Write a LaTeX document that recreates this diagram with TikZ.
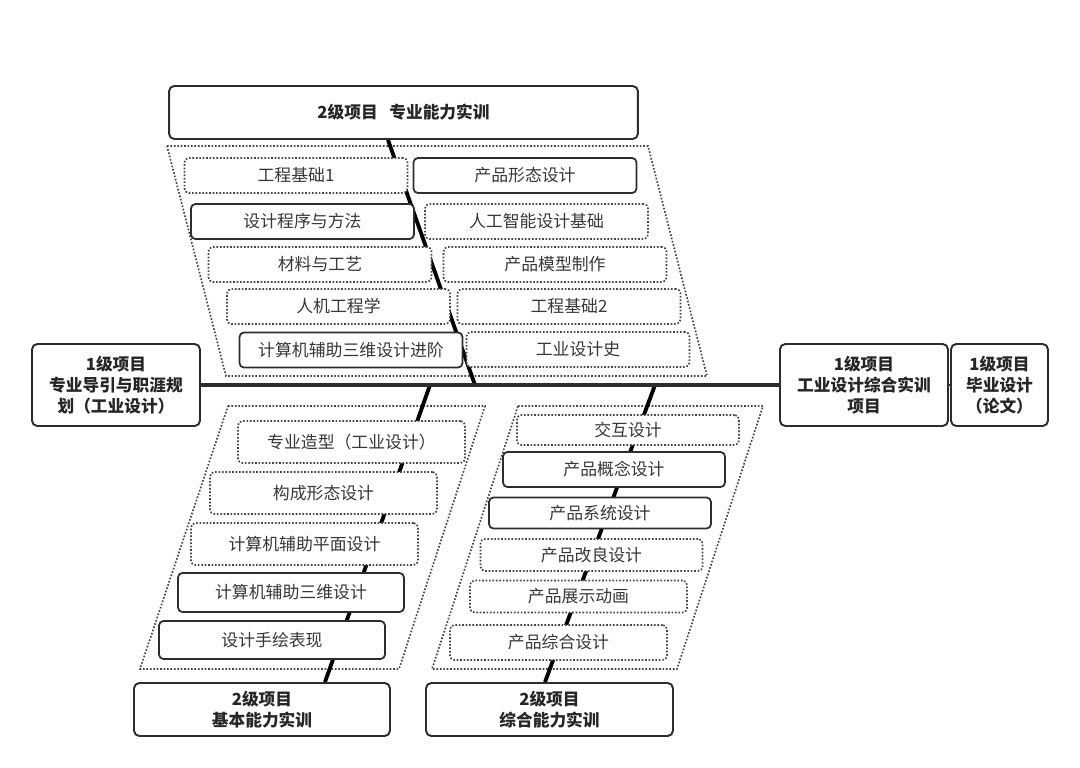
\documentclass[tikz,border=0pt]{standalone}
\usepackage{fontspec}
\setmainfont{Noto Sans CJK SC}
\definecolor{ink}{RGB}{55,55,55}
\definecolor{rim}{RGB}{45,45,45}
\definecolor{dots}{RGB}{70,70,70}
\usetikzlibrary{backgrounds}
\tikzset{
  item/.style={rounded corners=2.5pt, fill=white, text=ink, inner sep=0pt,
              font=\fontsize{9.6}{11}\selectfont, minimum width=4.46cm, minimum height=0.7cm},
  core/.style={item, draw=rim, line width=1pt},
  extra/.style={item, draw=dots, line width=0.95pt, dash pattern=on 0.95pt off 1pt},
  level/.style={draw=rim, line width=1.1pt, rounded corners=3pt, fill=white, text=black!85,
              font=\bfseries\fontsize{9.5}{12}\selectfont, align=center, inner sep=0pt},
  band/.style={dots, line width=0.95pt, dash pattern=on 0.95pt off 1pt},
  spine/.style={black, line width=2.2pt},
  axis/.style={rim, line width=2pt},
}
\begin{document}
\begin{tikzpicture}[x=0.02cm,y=-0.02cm]
    \useasboundingbox (0,0) rectangle (1080,768);
    \node[level, minimum width=9.38cm, minimum height=1.06cm] (pro) at (403.5,112.5) {2级项目\hspace{0.7em}专业能力实训};
    \node[level, minimum width=3.36cm, minimum height=1.64cm] (guide) at (116,385) {1级项目\\专业导引与职涯规\\划（工业设计）};
    \node[level, minimum width=3.36cm, minimum height=1.64cm] (synth) at (864,385) {1级项目\\工业设计综合实训\\项目};
    \node[level, minimum width=1.94cm, minimum height=1.64cm] (thesis) at (999.5,385) {1级项目\\毕业设计\\（论文）};
    \node[level, minimum width=5.12cm, minimum height=1.06cm] (basic) at (262,709.5) {2级项目\\基本能力实训};
    \node[level, minimum width=4.94cm, minimum height=1.06cm] (comp) at (549.5,709.5) {2级项目\\综合能力实训};
    \coordinate (jt) at (475,385);
    \coordinate (jl) at (430,385);
    \coordinate (jr) at (655,385);
    \begin{scope}[on background layer]
      \draw[band] (167,146) -- (648,146) -- (707,376) -- (226,376) -- cycle;
      \draw[band] (228,406) -- (485,406) -- (399,669) -- (140,669) -- cycle;
      \draw[band] (518,406) -- (763,406) -- (677,669) -- (432,669) -- cycle;
      \draw[spine] ([xshift=-0.31cm]pro.south) -- (jt);
      \draw[spine] (jl) -- ([xshift=1.26cm]basic.north);
      \draw[spine] (jr) -- ([xshift=-0.09cm]comp.north);
    \end{scope}
    \draw[axis] (guide.east) -- (synth.west);
    \draw[rim, line width=1pt] (synth.east) -- (thesis.west);
    \node[extra] (eng1) at (296,175.5) {工程基础1};
    \node[core] (form) at (525,175.5) {产品形态设计};
    \node[core] (method) at (302.5,221.5) {设计程序与方法};
    \node[extra] (ai) at (536.5,221.5) {人工智能设计基础};
    \node[extra] (mat) at (320,264.5) {材料与工艺};
    \node[extra] (model) at (555,264.5) {产品模型制作};
    \node[extra] (ergo) at (338.5,306.5) {人机工程学};
    \node[extra] (eng2) at (569,306.5) {工程基础2};
    \node[core] (cad3p) at (351,350) {计算机辅助三维设计进阶};
    \node[extra] (hist) at (578,349.5) {工业设计史};
    \node[extra, minimum width=4.54cm, minimum height=0.84cm] (shape) at (351.5,442) {专业造型（工业设计）};
    \node[extra, minimum width=4.54cm, minimum height=0.84cm] (compo) at (323.5,493) {构成形态设计};
    \node[extra, minimum width=4.54cm, minimum height=0.84cm] (cad2) at (304.5,544) {计算机辅助平面设计};
    \node[core, minimum width=4.52cm, minimum height=0.78cm] (cad3) at (291,592.5) {计算机辅助三维设计};
    \node[core, minimum width=4.52cm, minimum height=0.76cm] (hand) at (272,640) {设计手绘表现};
    \node[extra, minimum width=4.44cm, minimum height=0.6cm] (inter) at (628,430) {交互设计};
    \node[core, minimum width=4.44cm, minimum height=0.7cm] (concept) at (614,469.5) {产品概念设计};
    \node[core, minimum width=4.44cm, minimum height=0.62cm] (system) at (600,513) {产品系统设计};
    \node[extra, minimum width=4.44cm, minimum height=0.64cm] (improve) at (591.5,555) {产品改良设计};
    \node[extra, minimum width=4.34cm, minimum height=0.64cm] (anim) at (578.5,596.5) {产品展示动画};
    \node[extra, minimum width=4.34cm, minimum height=0.7cm] (integ) at (558.5,642.5) {产品综合设计};
\end{tikzpicture}
\end{document}
